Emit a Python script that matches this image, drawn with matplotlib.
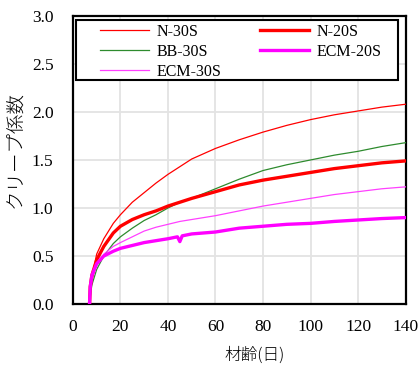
import matplotlib
matplotlib.use("Agg")
import matplotlib.pyplot as plt
from matplotlib.patches import Rectangle

# Data (days vs creep coefficient)
days_n30 = [7, 7.3, 8, 10, 13, 17, 20, 25, 30, 35, 40, 45, 50, 60, 70, 80, 90, 100, 110, 120, 130, 140]
n30 = [0, 0.15, 0.28, 0.52, 0.68, 0.84, 0.93, 1.06, 1.16, 1.26, 1.35, 1.43, 1.51, 1.62, 1.71, 1.79, 1.86, 1.92, 1.97, 2.01, 2.05, 2.08]

days_n20 = [7, 7.3, 8, 10, 13, 17, 20, 25, 30, 35, 40, 45, 50, 60, 70, 80, 90, 100, 110, 120, 130, 140]
n20 = [0, 0.18, 0.30, 0.46, 0.60, 0.74, 0.81, 0.88, 0.93, 0.97, 1.02, 1.06, 1.10, 1.17, 1.24, 1.29, 1.33, 1.37, 1.41, 1.44, 1.47, 1.49]

days_bb30 = [7, 7.5, 8, 10, 13, 17, 20, 25, 30, 35, 40, 45, 50, 60, 70, 80, 90, 100, 110, 120, 130, 140]
bb30 = [0, 0.12, 0.20, 0.36, 0.50, 0.63, 0.70, 0.79, 0.87, 0.93, 1.00, 1.06, 1.10, 1.20, 1.30, 1.39, 1.45, 1.50, 1.55, 1.59, 1.64, 1.68]

days_ecm30 = [7, 7.3, 8, 10, 13, 17, 20, 25, 30, 35, 40, 45, 50, 60, 70, 80, 90, 100, 110, 120, 130, 140]
ecm30 = [0, 0.14, 0.25, 0.40, 0.52, 0.60, 0.64, 0.70, 0.76, 0.80, 0.83, 0.86, 0.88, 0.92, 0.97, 1.02, 1.06, 1.10, 1.14, 1.17, 1.20, 1.22]

days_ecm20 = [7, 7.3, 8, 10, 13, 17, 20, 25, 30, 35, 40, 44, 45, 46, 50, 60, 70, 80, 90, 100, 110, 120, 130, 140]
ecm20 = [0, 0.18, 0.30, 0.42, 0.50, 0.55, 0.58, 0.61, 0.64, 0.66, 0.68, 0.70, 0.65, 0.71, 0.73, 0.75, 0.79, 0.81, 0.83, 0.84, 0.86, 0.875, 0.89, 0.90]

xticks = [0, 20, 40, 60, 80, 100, 120, 140]
yticks = [0.0, 0.5, 1.0, 1.5, 2.0, 2.5, 3.0]

plt.rcParams['font.family'] = ['Liberation Serif', 'Noto Sans CJK JP']

fig = plt.figure(figsize=(4.19, 3.69), dpi=100)
ax = fig.add_axes([0.174, 0.176, 0.794, 0.781])

ax.plot(days_n30, n30, color='#ff0000', lw=0.9, label='N-30S', zorder=3)
ax.plot(days_bb30, bb30, color='#2e8b2e', lw=0.9, label='BB-30S', zorder=3)
ax.plot(days_ecm30, ecm30, color='#ff40ff', lw=0.9, label='ECM-30S', zorder=3)
ax.plot(days_n20, n20, color='#ff0000', lw=2.4, label='N-20S', zorder=3)
ax.plot(days_ecm20, ecm20, color='#ff00ff', lw=2.4, label='ECM-20S', zorder=3)

ax.set_xlim(0, 140)
ax.set_ylim(0, 3.0)
ax.set_xticks(xticks)
ax.set_yticks(yticks)
ax.set_yticklabels([f"{v:.1f}" for v in yticks])
ax.tick_params(axis='both', length=0, labelsize=12.5)
ax.tick_params(axis='x', pad=11)
ax.tick_params(axis='y', pad=14)
ax.grid(True, color='#e3e3e3', lw=1.3, zorder=0)
ax.set_axisbelow(True)
for s in ax.spines.values():
    s.set_linewidth(1.6)
    s.set_color('black')

ax.set_xlabel('材齢(日)', family=['Noto Sans CJK JP'], fontsize=12, fontweight='light')
ax.xaxis.set_label_coords(0.547, -0.148)
ax.set_ylabel('クリープ係数', family=['Noto Sans CJK JP'], fontsize=14, fontweight='light')
ax.yaxis.set_label_coords(-0.143, 0.538)

# legend frame
ax.add_patch(Rectangle((0.009, 0.778), 0.968, 0.206, transform=ax.transAxes,
                       facecolor='white', edgecolor='black', lw=1.5, zorder=4))
leg = ax.legend(loc='upper left', bbox_to_anchor=(0.081, 0.972),
                ncol=2, fontsize=11.5, frameon=False, handlelength=3.1,
                borderaxespad=0, borderpad=0, labelspacing=0.24, handletextpad=0.45,
                columnspacing=2.4)
leg.set_zorder(5)

fig.savefig('out.png', dpi=100)
